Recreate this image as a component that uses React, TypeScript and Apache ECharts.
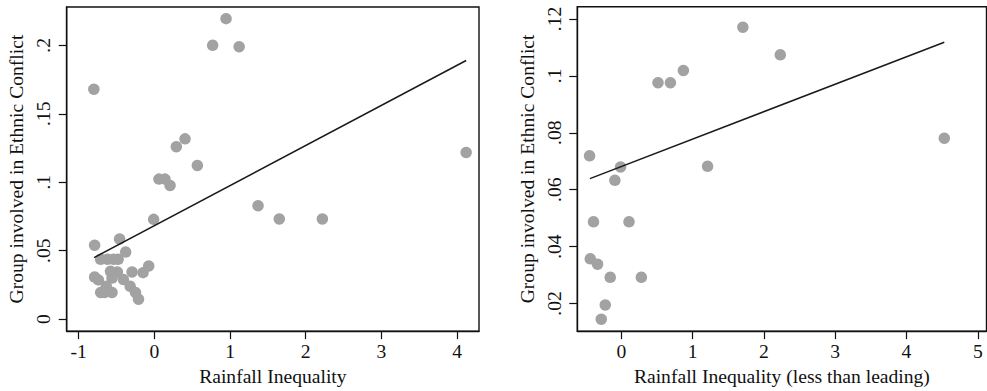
import React, { useEffect, useRef } from "react";
import * as echarts from "echarts";

// Left panel: Rainfall Inequality vs Group involved in Ethnic Conflict
const leftX = [
  -0.8, 0.947, 0.77, 1.12, 0.405, 0.29, 0.568, 0.06, 0.14, 0.207, -0.01, 1.37, 1.65, 2.22, 4.12,
  -0.79, -0.46, -0.38, -0.71, -0.62, -0.54, -0.48, -0.295, -0.075, -0.15, -0.79, -0.74, -0.58,
  -0.49, -0.56, -0.41, -0.32, -0.25, -0.21, -0.71, -0.56, -0.635, -0.66,
];
const leftY = [
  0.168, 0.2195, 0.2, 0.199, 0.1317, 0.126, 0.1123, 0.1023, 0.1023, 0.0977, 0.0729, 0.0829, 0.0732,
  0.0732, 0.1218, 0.054, 0.0586, 0.049, 0.0437, 0.0437, 0.0437, 0.0437, 0.0345, 0.0389, 0.034,
  0.0308, 0.0287, 0.035, 0.0345, 0.03, 0.029, 0.024, 0.0195, 0.0146, 0.0195, 0.0195, 0.024, 0.0195,
];
const leftFitX = [-0.797, 4.12];
const leftFitY = [0.045, 0.1889];

// Right panel: Rainfall Inequality (less than leading)
const rightX = [
  1.705, 2.23, 0.871, 0.515, 0.689, 4.53, -0.445, -0.01, 1.21, -0.09, -0.39, 0.108, -0.435, -0.333,
  -0.155, 0.281, -0.225, -0.281,
];
const rightY = [
  0.1171, 0.1074, 0.1019, 0.0976, 0.0976, 0.0781, 0.0719, 0.068, 0.0682, 0.0633, 0.0487, 0.0487,
  0.0357, 0.0338, 0.0292, 0.0292, 0.0195, 0.0145,
];
const rightFitX = [-0.44, 4.53];
const rightFitY = [0.0639, 0.1118];

// Tick values
const leftXTicks = [-1, 0, 1, 2, 3, 4];
const leftYTicks = [0, 0.05, 0.1, 0.15, 0.2];
const rightXTicks = [0, 1, 2, 3, 4, 5];
const rightYTicks = [0.02, 0.04, 0.06, 0.08, 0.1, 0.12];

const leftXTitle = "Rainfall Inequality";
const rightXTitle = "Rainfall Inequality (less than leading)";
const yTitle = "Group involved in Ethnic Conflict";

const FONT = "'Liberation Serif', 'Times New Roman', serif";
const FS = 19.6;
const INK = "#111";
const MARK = "#a2a2a2";

const fmtY = (v: number) => {
  if (Math.abs(v) < 1e-12) return "0";
  return String(Number(v.toFixed(4))).replace(/^0\./, ".");
};

function makeXAxis(gridIndex: number, min: number, max: number, ticks: number[], name: string) {
  return {
    type: "value",
    gridIndex,
    min,
    max,
    name,
    nameLocation: "middle",
    nameGap: 32,
    nameTextStyle: { fontFamily: FONT, fontSize: FS, color: INK },
    axisLine: { show: true, onZero: false, lineStyle: { color: INK, width: 1.4 } },
    axisTick: { show: true, length: 8, inside: false, customValues: ticks, lineStyle: { color: INK, width: 1.2 } },
    axisLabel: {
      show: true,
      customValues: ticks,
      margin: 10,
      fontFamily: FONT,
      fontSize: FS,
      color: INK,
      formatter: (v: number) => String(v),
    },
    splitLine: { show: false },
  };
}

function makeYAxis(gridIndex: number, min: number, max: number, ticks: number[]) {
  return {
    type: "value",
    gridIndex,
    min,
    max,
    name: yTitle,
    nameLocation: "middle",
    nameGap: 40,
    nameRotate: 90,
    nameTextStyle: { fontFamily: FONT, fontSize: FS, color: INK },
    axisLine: { show: true, onZero: false, lineStyle: { color: INK, width: 1.4 } },
    axisTick: { show: true, length: 8, inside: false, customValues: ticks, lineStyle: { color: INK, width: 1.2 } },
    axisLabel: {
      show: true,
      customValues: ticks,
      rotate: 90,
      margin: 13,
      fontFamily: FONT,
      fontSize: FS,
      color: INK,
      formatter: fmtY,
    },
    splitLine: { show: false },
  };
}

export default function App() {
  const ref = useRef<HTMLDivElement>(null);
  useEffect(() => {
    if (!ref.current) return;
    const chart = echarts.init(ref.current, null, { renderer: "svg" });
    const zip = (xs: number[], ys: number[]) => xs.map((x, i) => [x, ys[i]]);
    chart.setOption({
      animation: false,
      backgroundColor: "#ffffff",
      textStyle: { fontFamily: FONT },
      grid: [
        { left: 66.7, top: 7, width: 412.3, height: 325, show: true, borderColor: INK, borderWidth: 1.4, backgroundColor: "transparent" },
        { left: 577.3, top: 6.7, width: 409.2, height: 325.3, show: true, borderColor: INK, borderWidth: 1.4, backgroundColor: "transparent" },
      ],
      xAxis: [
        makeXAxis(0, -1.159, 4.29, leftXTicks, leftXTitle),
        makeXAxis(1, -0.617, 5.122, rightXTicks, rightXTitle),
      ],
      yAxis: [makeYAxis(0, -0.0087, 0.228, leftYTicks), makeYAxis(1, 0.0103, 0.1243, rightYTicks)],
      series: [
        {
          type: "scatter",
          xAxisIndex: 0,
          yAxisIndex: 0,
          symbol: "circle",
          symbolSize: 11.5,
          itemStyle: { color: MARK, opacity: 1 },
          data: zip(leftX, leftY),
        },
        {
          type: "line",
          xAxisIndex: 0,
          yAxisIndex: 0,
          showSymbol: false,
          symbol: "none",
          lineStyle: { color: "#1a1a1a", width: 1.5 },
          data: zip(leftFitX, leftFitY),
        },
        {
          type: "scatter",
          xAxisIndex: 1,
          yAxisIndex: 1,
          symbol: "circle",
          symbolSize: 11.5,
          itemStyle: { color: MARK, opacity: 1 },
          data: zip(rightX, rightY),
        },
        {
          type: "line",
          xAxisIndex: 1,
          yAxisIndex: 1,
          showSymbol: false,
          symbol: "none",
          lineStyle: { color: "#1a1a1a", width: 1.5 },
          data: zip(rightFitX, rightFitY),
        },
      ],
    });
    return () => chart.dispose();
  }, []);
  return (
    <div
      ref={ref}
      style={{ position: "fixed", left: 0, top: 0, width: 987, height: 391, background: "#fff" }}
    />
  );
}
